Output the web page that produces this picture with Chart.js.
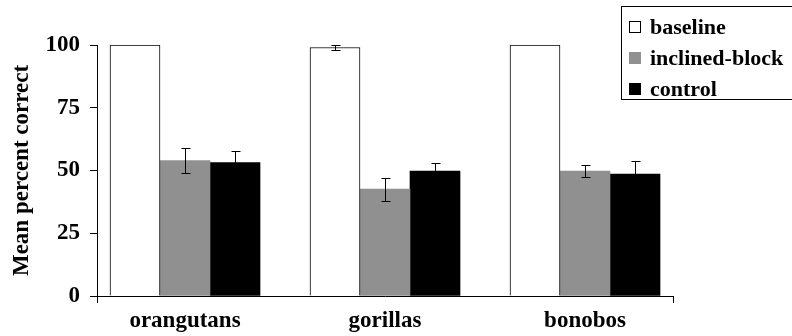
<!DOCTYPE html>
<html>
<head>
<meta charset="utf-8">
<script src="https://cdn.jsdelivr.net/npm/chart.js@4.4.0/dist/chart.umd.min.js"></script>
<style>
  body { margin: 0; background: #fff; }
  #wrap { position: relative; width: 792px; height: 336px; overflow: hidden; }
  #legend {
    position: absolute; left: 621px; top: 6px; width: 220px; height: 92px;
    border: 1px solid #000; background: #fff;
    font-family: "Liberation Serif", "Times New Roman", Times, serif; font-weight: bold; font-size: 22px;
  }
  #legend div { position: absolute; left: 7px; height: 26px; line-height: 26px; white-space: nowrap; }
  #legend span.box { display: inline-block; width: 10px; height: 10px; border: 1px solid #000; margin-right: 9px; vertical-align: 1px; }
</style>
</head>
<body>
<div id="wrap">
  <canvas id="mycanvas" width="792" height="336"></canvas>
  <div id="legend"></div>
</div>
<script>
var categories = ['orangutans', 'gorillas', 'bonobos'];
var seriesNames = ['baseline', 'inclined-block', 'control'];
var baseline = [100, 99, 100];
var inclined = [54, 42.6, 49.8];
var control = [53.2, 49.8, 48.6];
var baselineErr = [0, 1, 0];
var inclinedErr = [4.8, 4.6, 2.5];
var controlErr = [4.5, 3.1, 5.1];
var yTicks = [0, 25, 50, 75, 100];

var fills = ['#ffffff', '#909090', '#000000'];
var values = [baseline, inclined, control];
var errs = [baselineErr, inclinedErr, controlErr];

// legend
var leg = document.getElementById('legend');
for (var i = 0; i < seriesNames.length; i++) {
    var row = document.createElement('div');
    row.style.top = (7 + i * 31) + 'px';
    var b = document.createElement('span');
    b.className = 'box';
    b.style.background = fills[i];
    if (i == 1) b.style.borderColor = fills[i];
    row.appendChild(b);
    row.appendChild(document.createTextNode(seriesNames[i]));
    leg.appendChild(row);
}

var datasets = [];
for (var i = 0; i < values.length; i++) {
    var pts = [];
    for (var j = 0; j < categories.length; j++) {
        pts.push({x: j, y: values[i][j]});
    }
    datasets.push({
        label: seriesNames[i],
        data: pts,
        err: errs[i],
        backgroundColor: fills[i],
        borderColor: '#000',
        borderWidth: i == 0 ? 1 : 0,
        barThickness: 50
    });
}

var errorBars = {
    id: 'errorBars',
    afterDatasetsDraw: function(chart){
        var ctx = chart.ctx;
        var ys = chart.scales.y;
        ctx.save();
        ctx.strokeStyle = '#000';
        ctx.lineWidth = 1;
        chart.data.datasets.forEach(function(ds, di){
            var meta = chart.getDatasetMeta(di);
            meta.data.forEach(function(bar, k){
                var e = ds.err[k];
                if (!e) return;
                var v = ds.data[k].y;
                var x = Math.round(bar.x) + 0.5;
                var top = Math.round(ys.getPixelForValue(v + e)) + 0.5;
                var bot = Math.round(ys.getPixelForValue(v - e)) + 0.5;
                ctx.beginPath();
                ctx.moveTo(x, top); ctx.lineTo(x, bot);
                ctx.moveTo(x - 4, top); ctx.lineTo(x + 5, top);
                ctx.moveTo(x - 4, bot); ctx.lineTo(x + 5, bot);
                ctx.stroke();
            });
        });
        ctx.restore();
    }
};

var font = {family: '"Liberation Serif", "Times New Roman", Times, serif', weight: 'bold', size: 23};
var edge = 0.44;

new Chart(document.getElementById('mycanvas'), {
    type: 'bar',
    data: {datasets: datasets},
    options: {
        responsive: false,
        animation: false,
        devicePixelRatio: 1,
        layout: {padding: {left: 0, top: 45, right: 119, bottom: 0}},
        plugins: {legend: {display: false}, tooltip: {enabled: false}},
        scales: {
            x: {
                type: 'linear',
                offset: false,
                min: -edge,
                max: categories.length - 1 + edge,
                afterFit: function(s){ s.height = 40; },
                afterBuildTicks: function(s){
                    var t = [{value: -edge}];
                    for (var j = 0; j < categories.length; j++) t.push({value: j});
                    t.push({value: categories.length - 1 + edge});
                    s.ticks = t;
                },
                grid: {
                    offset: false,
                    drawOnChartArea: false,
                    tickLength: 7,
                    color: function(c){
                        if (!c.tick) return '#000';
                        return Number.isInteger(c.tick.value) ? 'rgba(0,0,0,0)' : '#000';
                    }
                },
                border: {color: '#000', width: 1},
                ticks: {
                    autoSkip: false,
                    maxRotation: 0,
                    padding: 4,
                    color: '#000',
                    font: font,
                    callback: function(v){ return Number.isInteger(v) ? categories[v] : ''; }
                }
            },
            y: {
                min: 0,
                max: 100,
                afterFit: function(s){ s.width = 97; },
                afterBuildTicks: function(s){
                    s.ticks = yTicks.map(function(v){ return {value: v}; });
                },
                grid: {drawOnChartArea: false, tickLength: 7, color: '#000'},
                border: {color: '#000', width: 1},
                ticks: {padding: 10, color: '#000', font: font},
                title: {
                    display: true,
                    text: 'Mean percent correct',
                    color: '#000',
                    font: font,
                    padding: {top: 8, bottom: 0}
                }
            }
        }
    },
    plugins: [errorBars]
});
</script>
</body>
</html>
